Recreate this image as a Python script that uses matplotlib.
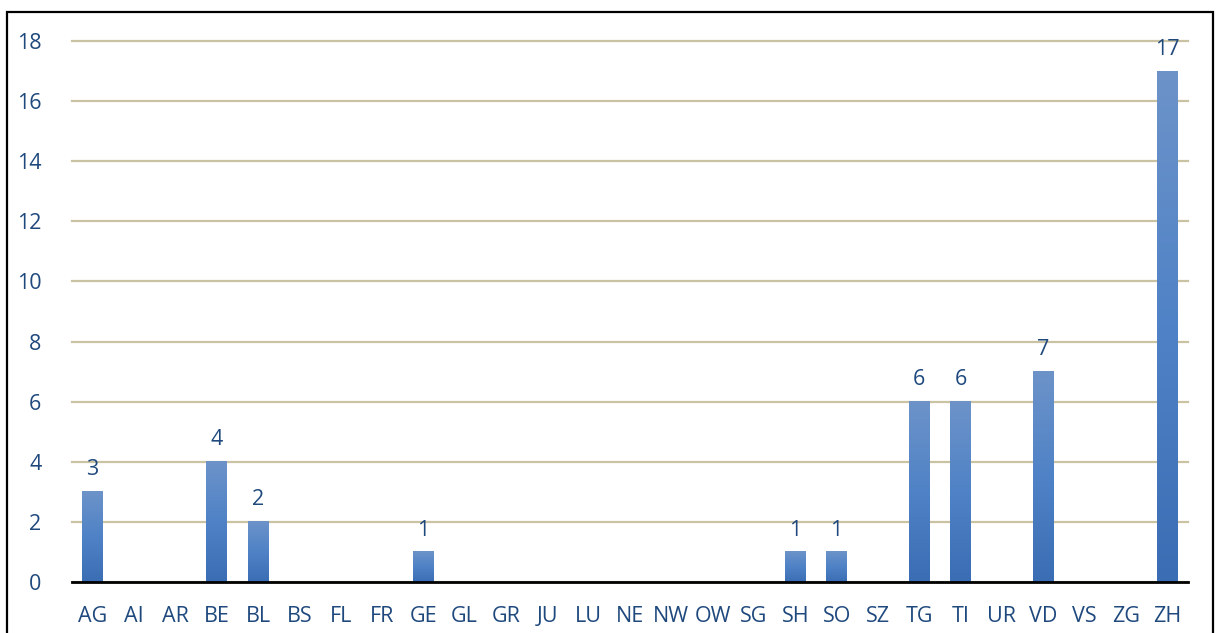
import numpy as np
import matplotlib
matplotlib.use('Agg')
from matplotlib import pyplot as plt
from matplotlib.patches import Rectangle
from matplotlib.colors import LinearSegmentedColormap

cantons = ['AG', 'AI', 'AR', 'BE', 'BL', 'BS', 'FL', 'FR', 'GE', 'GL', 'GR', 'JU', 'LU',
           'NE', 'NW', 'OW', 'SG', 'SH', 'SO', 'SZ', 'TG', 'TI', 'UR', 'VD', 'VS', 'ZG', 'ZH']
counts = [3, 0, 0, 4, 2, 0, 0, 0, 1, 0, 0, 0, 0,
          0, 0, 0, 0, 1, 1, 0, 6, 6, 0, 7, 0, 0, 17]
yticks = [0, 2, 4, 6, 8, 10, 12, 14, 16, 18]

textColor = '#1F497D'
gridColor = '#C9C2A3'
barCmap = LinearSegmentedColormap.from_list('bar', ['#3A6DB3', '#4F82C6', '#6D93C9'])

plt.rcParams['font.family'] = ['Open Sans', 'DejaVu Sans']

fig = plt.figure(figsize=(12.18, 6.33), dpi=100)
ax = fig.add_axes([72/1218, 1 - 582/633, 1116/1218, 541/633])

x = np.arange(len(cantons))
width = 0.5

# gradient bars: light at top, darker at base
grad = np.linspace(0, 1, 256).reshape(-1, 1)
for xi, v in zip(x, counts):
  if v <= 0:
    continue
  ax.imshow(grad, cmap=barCmap, origin='lower', aspect='auto',
            extent=(xi - width/2, xi + width/2, 0, v), zorder=3)
  ax.text(xi, v + 0.38, str(v), ha='center', va='bottom', fontsize=15.5,
          color=textColor, zorder=4)

ax.set_xlim(-0.5, len(cantons) - 0.5)
ax.set_ylim(0, 18)

ax.set_yticks(yticks)
ax.set_xticks(x)
ax.set_xticklabels(cantons)
ax.tick_params(axis='both', length=0, labelsize=15.5, colors=textColor)
ax.tick_params(axis='y', pad=22)
ax.tick_params(axis='x', pad=17)
ax.yaxis.grid(True, color=gridColor, linewidth=1.6, zorder=0)
for line in ax.yaxis.get_gridlines():
  line.set_clip_on(False)
ax.set_axisbelow(True)
for side in ['top', 'right', 'left']:
  ax.spines[side].set_visible(False)
ax.spines['bottom'].set_color('black')
ax.spines['bottom'].set_linewidth(2)
ax.spines['bottom'].set_zorder(5)

# outer frame around the whole chart
fig.patches.append(Rectangle((7/1218, -0.05), 1206/1218, 1 - 12/633 + 0.05,
                             transform=fig.transFigure, fill=False,
                             edgecolor='black', linewidth=1.6))

fig.savefig('out.png', dpi=100)
